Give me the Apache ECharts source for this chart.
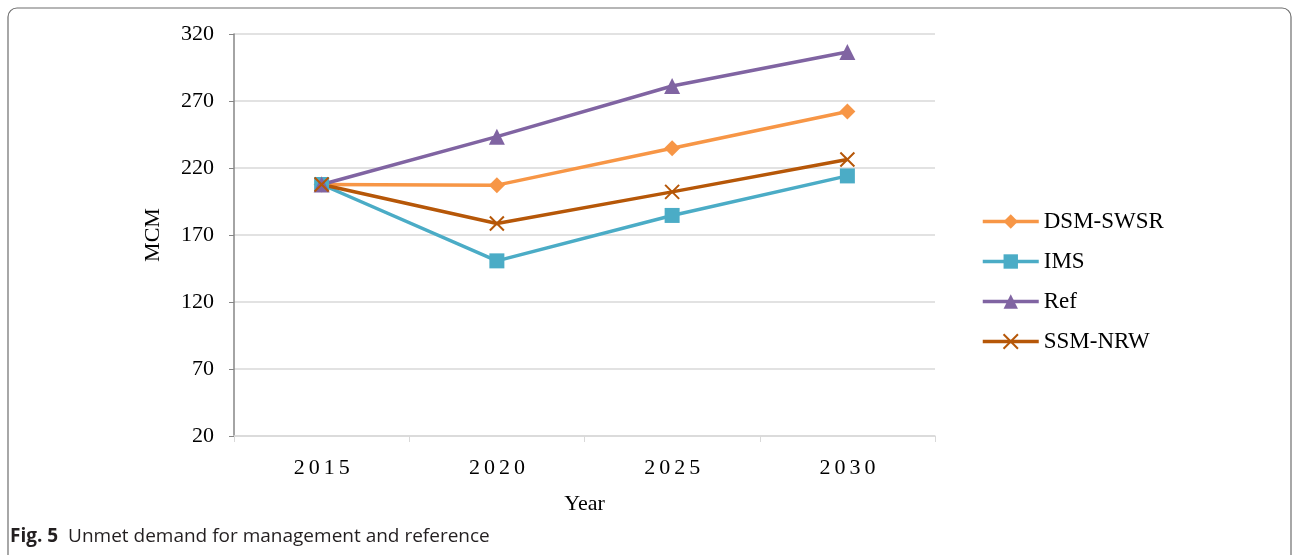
<!DOCTYPE html>
<html>
<head>
<meta charset="utf-8">
<script src="https://cdn.jsdelivr.net/npm/echarts@6/dist/echarts.min.js"></script>
<style>
  html, body { margin: 0; padding: 0; background: #fff; }
  #chart { width: 1293px; height: 555px; }
</style>
</head>
<body>
<div id="chart"></div>
<script>
// Unmet demand (MCM) per scenario, by year
const years = ['2015', '2020', '2025', '2030'];
const dsmSwsr = [207.7, 207.2, 234.8, 262.1];
const ims = [207.7, 150.7, 184.6, 214.1];
const ref = [207.7, 243.4, 281.2, 306.6];
const ssmNrw = [207.7, 178.6, 202.2, 226.3];

const serif = '"Liberation Serif", "Times New Roman", serif';
const crossPath = 'path://M0,0L10,10M10,0L0,10';
const chart = echarts.init(document.getElementById('chart'));

function lineSeries(name, data, color, symbol, size) {
  return {
    name: name,
    type: 'line',
    data: data,
    symbol: symbol,
    symbolSize: size,
    color: color,
    lineStyle: { width: 3.5, color: color },
    itemStyle: symbol === crossPath
      ? { color: 'none', borderColor: color, borderWidth: 2 }
      : { color: color },
    emphasis: { disabled: true },
    z: 3
  };
}

chart.setOption({
  animation: false,
  grid: { left: 234, right: 358, top: 34, bottom: 119 },
  xAxis: {
    type: 'category',
    data: years,
    boundaryGap: true,
    name: 'Year',
    nameLocation: 'middle',
    nameGap: 57,
    nameTextStyle: { fontFamily: serif, fontSize: 22, color: '#000' },
    axisLine: { lineStyle: { color: '#d9d9d9', width: 1.5 } },
    axisTick: { show: true, length: 6, lineStyle: { color: '#d9d9d9' } },
    axisLabel: {
      color: '#000',
      margin: 21,
      // spaced-out digits for the year labels
      formatter: function (v) {
        return v.split('').map(function (c) { return '{d|' + c + '}'; }).join('');
      },
      rich: { d: { fontFamily: serif, fontSize: 22, color: '#000', padding: [0, 2, 0, 2] } }
    },
    splitLine: { show: false }
  },
  yAxis: {
    type: 'value',
    min: 20,
    max: 320,
    interval: 50,
    name: 'MCM',
    nameLocation: 'middle',
    nameGap: 70,
    nameRotate: 90,
    nameTextStyle: { fontFamily: serif, fontSize: 22, color: '#000' },
    axisLine: { show: true, lineStyle: { color: '#868686', width: 1.5 } },
    axisTick: { show: true, length: 5, lineStyle: { color: '#868686' } },
    axisLabel: { fontFamily: serif, fontSize: 22, color: '#000', margin: 20 },
    splitLine: { lineStyle: { color: '#d9d9d9', width: 1.5 } }
  },
  legend: {
    orient: 'vertical',
    left: 976,
    top: 205,
    itemWidth: 56,
    itemHeight: 18,
    itemGap: 17,
    lineStyle: { width: 3.5 },
    textStyle: { fontFamily: serif, fontSize: 23, color: '#000' },
    data: ['DSM-SWSR', 'IMS', 'Ref', 'SSM-NRW']
  },
  series: [
    lineSeries('DSM-SWSR', dsmSwsr, '#f79646', 'diamond', 16),
    lineSeries('IMS', ims, '#4bacc6', 'rect', 15),
    lineSeries('Ref', ref, '#8064a2', 'triangle', 16),
    lineSeries('SSM-NRW', ssmNrw, '#b65708', crossPath, 14)
  ],
  graphic: [
    {
      type: 'rect',
      silent: true,
      shape: { x: 8, y: 8, width: 1283, height: 560, r: 9 },
      style: { fill: 'none', stroke: '#6e6e6e', lineWidth: 1.2 }
    },
    {
      type: 'text',
      left: 10,
      top: 527,
      style: {
        text: '{b|Fig. 5}  Unmet demand for management and reference',
        rich: {
          b: { fontFamily: '"Open Sans", "Noto Sans", sans-serif', fontWeight: 'bold', fontSize: 19, fill: '#231f20' }
        },
        fontFamily: '"Open Sans", "Noto Sans", sans-serif',
        fontSize: 19,
        fill: '#231f20'
      }
    }
  ]
});
</script>
</body>
</html>
